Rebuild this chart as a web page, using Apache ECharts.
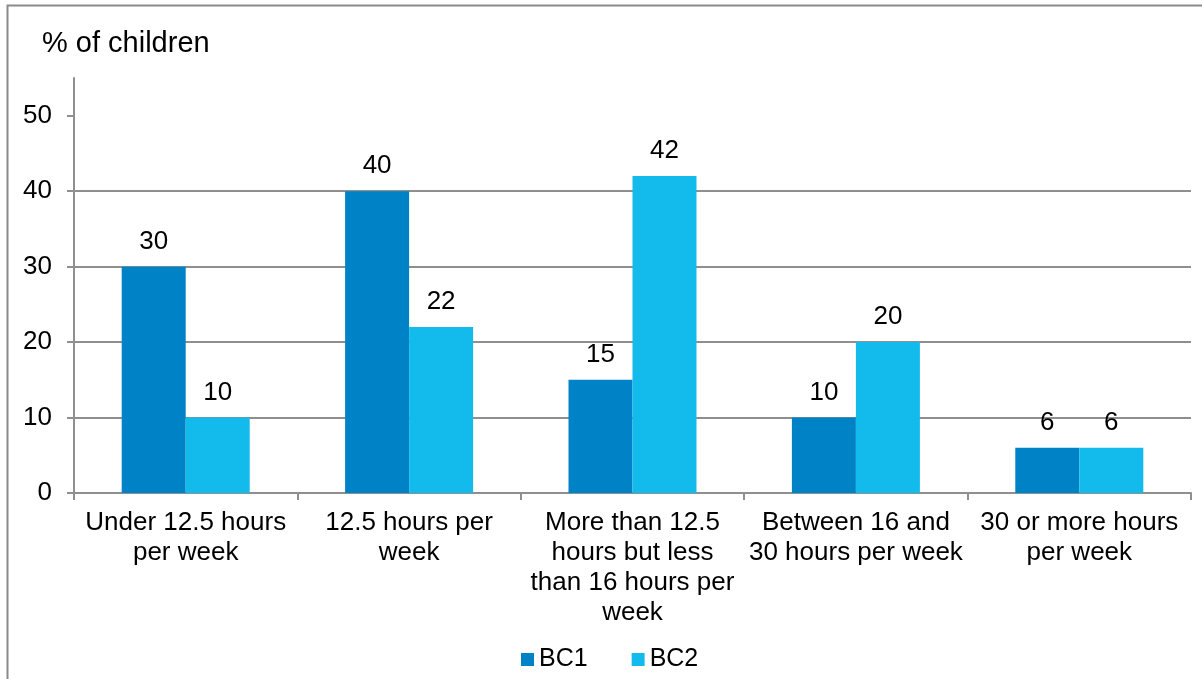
<!DOCTYPE html>
<html>
<head>
<meta charset="utf-8">
<script src="https://cdn.jsdelivr.net/npm/echarts@6/dist/echarts.min.js"></script>
<style>
  html, body { margin: 0; padding: 0; background: #fff; }
  #chart { width: 1202px; height: 679px; }
</style>
</head>
<body>
<div id="chart"></div>
<script>
// Weekly hours of childcare, share of children in each band
const categories = [
  'Under 12.5 hours\nper week',
  '12.5 hours per\nweek',
  'More than 12.5\nhours but less\nthan 16 hours per\nweek',
  'Between 16 and\n30 hours per week',
  '30 or more hours\nper week'
];
const bc1 = [30, 40, 15, 10, 6];
const bc2 = [10, 22, 42, 20, 6];
const yTicks = [0, 10, 20, 30, 40, 50];

const FONT = "'Liberation Sans', Arial, sans-serif";
const GRID_GRAY = '#8f8f8f';

const chart = echarts.init(document.getElementById('chart'), null, { renderer: 'canvas' });

const labelStyle = {
  show: true,
  position: 'top',
  distance: 12,
  color: '#000',
  fontFamily: FONT,
  fontSize: 26
};

chart.setOption({
  animation: false,
  backgroundColor: '#fff',
  textStyle: { fontFamily: FONT },
  graphic: [{
    type: 'rect',
    shape: { x: 7.5, y: 5.5, width: 1400, height: 900 },
    style: { fill: 'none', stroke: '#8a8a8a', lineWidth: 2 },
    silent: true,
    z: -1
  }],
  title: {
    text: '% of children',
    left: 37,
    top: 24,
    textStyle: { fontFamily: FONT, fontSize: 29, fontWeight: 'normal', color: '#000' }
  },
  legend: {
    data: ['BC1', 'BC2'],
    left: 516,
    top: 642,
    itemWidth: 13,
    itemHeight: 13,
    itemGap: 44,
    icon: 'rect',
    textStyle: { fontFamily: FONT, fontSize: 25, color: '#000' }
  },
  grid: { left: 74, right: 11, top: 78, bottom: 186, containLabel: false },
  xAxis: {
    type: 'category',
    data: categories,
    axisLine: { show: true, lineStyle: { color: GRID_GRAY, width: 2 } },
    axisTick: { show: true, length: 7, alignWithLabel: false, lineStyle: { color: GRID_GRAY, width: 2 } },
    axisLabel: {
      interval: 0,
      margin: 15,
      color: '#000',
      fontFamily: FONT,
      fontSize: 26,
      lineHeight: 30,
      align: 'center'
    },
    splitLine: { show: false }
  },
  yAxis: {
    type: 'value',
    min: 0,
    max: 55,
    interval: 10,
    axisLine: { show: true, lineStyle: { color: GRID_GRAY, width: 2 } },
    axisTick: { show: true, length: 7, customValues: yTicks, lineStyle: { color: GRID_GRAY, width: 2 } },
    axisLabel: {
      customValues: yTicks,
      margin: 22,
      color: '#000',
      fontFamily: FONT,
      fontSize: 26
    },
    splitLine: { show: true, showMaxLine: false, lineStyle: { color: GRID_GRAY, width: 2 } }
  },
  series: [
    {
      name: 'BC1',
      type: 'bar',
      data: bc1,
      itemStyle: { color: '#0083c6' },
      barGap: '0%',
      barCategoryGap: '42.7%',
      label: labelStyle
    },
    {
      name: 'BC2',
      type: 'bar',
      data: bc2,
      itemStyle: { color: '#12bbec' },
      label: labelStyle
    }
  ]
});
</script>
</body>
</html>
